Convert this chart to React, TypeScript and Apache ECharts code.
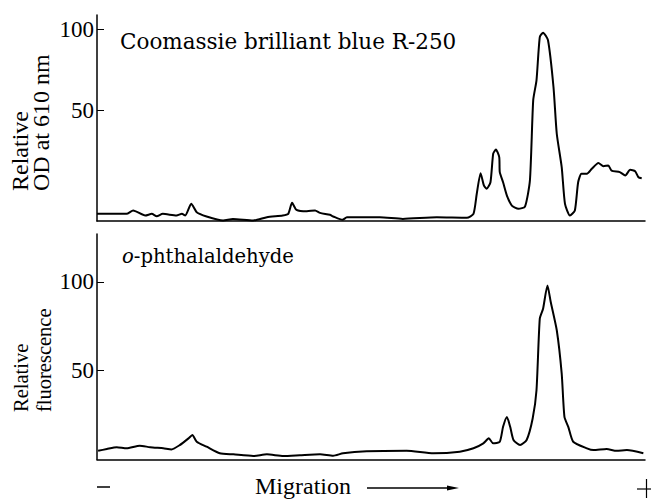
import React, { useEffect, useRef } from "react";
import * as echarts from "echarts";

// Migration position (0 = cathode "-", 100 = anode "+")
const topX = [0, 5.4, 6.6, 8.8, 10.0, 10.9, 12.0, 14.5, 15.5, 16.1, 17.2, 18.2, 20.0, 23.0, 24.8, 28.5, 31.0, 33.9, 34.9, 35.6, 36.4, 38.3, 39.8, 40.7, 42.5, 43.1, 44.8, 45.6, 51.6, 55.8, 62.0, 67.5, 68.7, 69.3, 70.0, 70.6, 71.1, 71.8, 72.3, 72.8, 73.4, 73.5, 74.1, 74.8, 75.7, 76.9, 78.1, 79.0, 79.6, 80.2, 80.8, 81.4, 82.3, 83.3, 83.9, 84.8, 85.4, 86.3, 87.2, 87.8, 88.4, 89.4, 90.3, 91.5, 92.4, 93.3, 93.9, 95.4, 96.4, 97.3, 98.2, 98.8, 99.4];
// Relative OD at 610 nm (Coomassie brilliant blue R-250)
const topY = [-13.6, -13.6, -11.5, -14.6, -13.6, -15.1, -13.6, -14.6, -13.6, -14.6, -7.4, -12.6, -15.2, -17.7, -16.7, -17.7, -15.7, -14.6, -13.6, -6.8, -11.1, -12.0, -11.5, -13.0, -14.2, -15.2, -17.3, -15.7, -15.7, -16.7, -15.7, -16.0, -13.6, -1.2, 11.5, 3.9, 1.9, 5.9, 23.5, 26.1, 21.4, 12.1, 5.9, -2.3, -8.5, -10.5, -9.1, 7.0, 56.4, 68.7, 95.4, 98.1, 93.4, 64.6, 35.8, 15.2, -7.4, -14.6, -11.5, 5.9, 11.1, 11.1, 14.2, 17.7, 15.8, 16.2, 13.1, 12.1, 10.1, 13.6, 12.7, 9.0, 8.4];

const botX = [0.2, 1.8, 3.6, 5.4, 7.8, 9.7, 12.1, 13.6, 15.1, 16.7, 17.4, 18.2, 20.0, 22.4, 24.9, 28.5, 31.0, 34.0, 37.0, 40.7, 43.1, 44.9, 49.2, 56.5, 61.4, 66.2, 68.7, 70.5, 71.5, 72.3, 73.5, 74.1, 74.8, 75.4, 76.0, 77.2, 78.4, 79.5, 80.2, 80.8, 81.4, 82.2, 82.8, 83.9, 84.8, 85.3, 86.0, 86.9, 89.4, 90.6, 93.0, 94.8, 96.7, 99.7];
// Relative fluorescence (o-phthalaldehyde)
const botY = [4.9, 5.9, 6.9, 6.3, 7.8, 6.9, 6.3, 5.7, 8.1, 11.9, 13.8, 10.0, 7.2, 3.5, 2.9, 2.0, 2.9, 2.0, 2.4, 2.9, 2.1, 3.5, 4.6, 4.9, 3.5, 4.4, 6.3, 9.1, 11.9, 9.1, 10.0, 18.4, 24.0, 18.4, 11.0, 8.1, 11.0, 23.1, 39.0, 79.3, 84.9, 98.0, 88.7, 72.8, 48.4, 24.0, 18.4, 10.0, 6.3, 5.3, 5.9, 4.9, 5.3, 3.5];

const yTicks = [50, 100];
const topTitle = "Coomassie brilliant blue R-250";
const topYName = "Relative\nOD at 610 nm";
const botYName = "Relative\nfluorescence";
const xName = "Migration";

const SERIF = "'Liberation Serif', 'DejaVu Serif', serif";
const WIDE = "'DejaVu Serif', 'Liberation Serif', serif";

function pairs(xs: number[], ys: number[]) {
  return xs.map((x, i) => [x, ys[i]]);
}

function yAxisFor(gridIndex: number, min: number, max: number) {
  return {
    type: "value",
    gridIndex,
    min,
    max,
    axisLine: { show: true, lineStyle: { color: "#000", width: 1.5 } },
    axisTick: { show: true, inside: true, length: 7, customValues: yTicks, lineStyle: { color: "#000", width: 1 } },
    axisLabel: { show: true, customValues: yTicks, margin: 3, color: "#000", fontFamily: SERIF, fontSize: 23 },
    splitLine: { show: false },
  };
}

function xAxisFor(gridIndex: number) {
  return {
    type: "value",
    gridIndex,
    min: 0,
    max: 100,
    axisLine: { show: true, onZero: false, lineStyle: { color: "#000", width: 1.5 } },
    axisTick: { show: false },
    axisLabel: { show: false },
    splitLine: { show: false },
  };
}

export default function App() {
  const ref = useRef<HTMLDivElement>(null);
  useEffect(() => {
    if (!ref.current) return;
    const chart = echarts.init(ref.current, null, { renderer: "svg" });
    chart.setOption({
      animation: false,
      backgroundColor: "#fff",
      grid: [
        { left: 97, top: 15, width: 548, height: 206 },
        { left: 97, top: 234, width: 548, height: 225.5 },
      ],
      xAxis: [xAxisFor(0), xAxisFor(1)],
      yAxis: [yAxisFor(0, -18, 109), yAxisFor(1, 0, 127)],
      series: [
        {
          type: "line",
          xAxisIndex: 0,
          yAxisIndex: 0,
          data: pairs(topX, topY),
          showSymbol: false,
          smooth: 0.2,
          lineStyle: { color: "#000", width: 2 },
        },
        {
          type: "line",
          xAxisIndex: 1,
          yAxisIndex: 1,
          data: pairs(botX, botY),
          showSymbol: false,
          smooth: 0.2,
          lineStyle: { color: "#000", width: 2 },
        },
      ],
      graphic: [
        {
          type: "text",
          x: 120,
          y: 41,
          style: { text: topTitle, fill: "#000", font: `21.5px ${WIDE}`, verticalAlign: "middle", align: "left" },
        },
        {
          type: "text",
          x: 122,
          y: 256,
          style: {
            text: "{i|o}-phthalaldehyde",
            fill: "#000",
            font: `19.6px ${WIDE}`,
            verticalAlign: "middle",
            align: "left",
            rich: { i: { fontStyle: "italic", fontFamily: WIDE, fontSize: 19.6 } },
          },
        },
        {
          type: "text",
          x: 9,
          y: 191,
          rotation: Math.PI / 2,
          style: { text: topYName, fill: "#000", font: `24px ${SERIF}`, lineHeight: 21, verticalAlign: "top", align: "left" },
        },
        {
          type: "text",
          x: 9,
          y: 412,
          rotation: Math.PI / 2,
          style: { text: botYName, fill: "#000", font: `20.5px ${SERIF}`, lineHeight: 23, verticalAlign: "top", align: "left" },
        },
        {
          type: "text",
          x: 255,
          y: 486,
          style: { text: xName, fill: "#000", font: `24px ${SERIF}`, verticalAlign: "middle", align: "left" },
        },
        { type: "line", shape: { x1: 367, y1: 488, x2: 452, y2: 488 }, style: { stroke: "#000", lineWidth: 1.5 } },
        { type: "polygon", shape: { points: [[447, 485.5], [459, 488], [447, 490.5]] }, style: { fill: "#000" } },
        { type: "line", shape: { x1: 97, y1: 487, x2: 110, y2: 487 }, style: { stroke: "#000", lineWidth: 1.5 } },
        { type: "line", shape: { x1: 637, y1: 489, x2: 652, y2: 489 }, style: { stroke: "#000", lineWidth: 1.2 } },
        { type: "line", shape: { x1: 646.5, y1: 479, x2: 646.5, y2: 498 }, style: { stroke: "#000", lineWidth: 1.2 } },
      ],
    });
    return () => chart.dispose();
  }, []);
  return <div ref={ref} style={{ position: "fixed", left: 0, top: 0, width: 651, height: 499 }} />;
}
